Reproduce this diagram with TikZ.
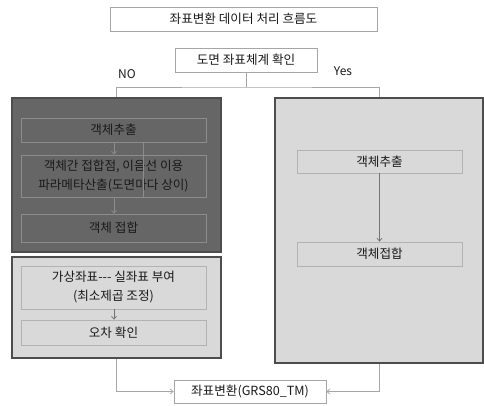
\documentclass[tikz,border=0pt]{standalone}
\usepackage{fontspec}
\setmainfont{Noto Sans CJK KR}
\usetikzlibrary{arrows.meta}
\definecolor{darkfill}{HTML}{666666}
\definecolor{lightfill}{HTML}{D9D9D9}
\definecolor{frame}{HTML}{4D4D4D}
\definecolor{thin}{HTML}{A6A6A6}
\definecolor{txt}{HTML}{1A1A1A}
\tikzset{
  base/.style={inner sep=0pt, align=center, text=txt, font=\fontsize{12.6}{19}\selectfont},
  whitebox/.style={base, draw=thin, fill=white, line width=0.6pt},
  bigdark/.style={draw=frame, fill=darkfill, line width=1.4pt},
  biglight/.style={draw=frame, fill=lightfill, line width=1.4pt},
  darkinner/.style={base, draw=black!45, fill=darkfill, line width=0.6pt},
  lightinner/.style={base, draw=black!30, fill=lightfill, line width=0.6pt},
  conn/.style={draw=thin, line width=0.7pt},
  arr/.style={conn, -{Straight Barb[length=3pt,width=5pt]}},
  darkarr/.style={draw=black!55, line width=0.7pt, -{Straight Barb[length=3pt,width=5pt]}},
  lbl/.style={base, font=\fontsize{12}{14}\selectfont}
}
\begin{document}
\begin{tikzpicture}[x=1pt,y=-1pt]
\useasboundingbox[fill=white] (0,0) rectangle (484,405);
% title
\node[whitebox, minimum width=267pt, minimum height=24pt] (title) at (243.5,19) {좌표변환 데이터 처리 흐름도};
\node[whitebox, minimum width=142pt, minimum height=24pt] (check) at (246,60) {도면 좌표체계 확인};
\node[lbl] (no) at (127,74) {NO};
\node[lbl] (yes) at (343,71) {Yes};
% big boxes
\node[bigdark, minimum width=209pt, minimum height=154pt] (dark) at (116.5,175) {};
\node[biglight, minimum width=209pt, minimum height=101pt] (light) at (116.5,307.5) {};
\node[biglight, minimum width=208pt, minimum height=265pt] (right) at (379,230.5) {};
% left dark inner
\node[darkinner, minimum width=185pt, minimum height=24pt] (l1) at (113.5,130) {객체추출};
\node[darkinner, minimum width=185pt, minimum height=42pt] (l2) at (113.5,176) {객체간 접합점, 이음선 이용\\파라메타산출(도면마다 상이)};
\node[darkinner, minimum width=185pt, minimum height=28pt] (l3) at (113.5,228) {객체 접합};
\draw[darkarr, draw=black!45] (l1.south -| 114,0) -- (l2.north -| 114,0);
\draw[darkarr, draw=black!45] (l2.south -| 114,0) -- (l3.north -| 114,0);
\coordinate (fa) at (143,142);
\coordinate (fb) at (143,197);
\draw[draw=black!45, line width=0.5pt] (fa) -- (fb);
% left light inner
\node[lightinner, minimum width=185pt, minimum height=43pt] (m1) at (113.5,287.5) {가상좌표-{}-{}- 실좌표 부여\\(최소제곱 조정)};
\node[lightinner, minimum width=185pt, minimum height=25pt] (m2) at (113.5,332.5) {오차 확인};
\draw[darkarr] (m1.south -| 114,0) -- (m2.north -| 114,0);
% right inner
\node[lightinner, minimum width=165pt, minimum height=23pt] (r1) at (379.5,161.5) {객체추출};
\node[lightinner, minimum width=165pt, minimum height=24pt] (r2) at (379.5,254) {객체접합};
\draw[darkarr] (r1) -- (r2);
% final
\node[whitebox, minimum width=152pt, minimum height=23pt] (final) at (250,391.5) {좌표변환(GRS80\_TM)};
% connectors
\coordinate (split) at (246,87);
\draw[conn] (check.south) -- (split);
\draw[conn] (dark.north) |- (split) -| (right.north);
\draw[arr] (light.south) |- (final.west);
\draw[arr] (right.south) |- (final.east);
\end{tikzpicture}
\end{document}
